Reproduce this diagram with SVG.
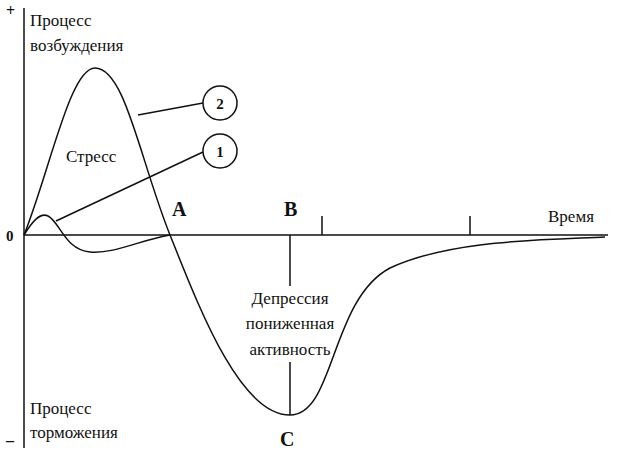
<svg xmlns="http://www.w3.org/2000/svg" width="620" height="456" viewBox="0 0 620 456">
<style>
.t{font-family:"Liberation Serif","Times New Roman",serif;font-size:17px;fill:#111}
.b{font-family:"Liberation Serif",serif;font-size:20px;font-weight:bold;fill:#111}
.l{stroke:#111;fill:none;stroke-width:1.5}
</style>
<rect width="620" height="456" fill="#fff"/>
<g id="axes">
<line class="l" x1="24" y1="8" x2="24" y2="448"/>
<line class="l" x1="24" y1="235" x2="608" y2="235"/>
<line class="l" x1="322" y1="216" x2="322" y2="235"/>
<line class="l" x1="470" y1="216" x2="470" y2="235"/>
<text class="b" x="6" y="16" style="font-size:16px">+</text>
<text class="b" x="6" y="446" style="font-size:16px">–</text>
<text class="b" x="6" y="241" style="font-size:15px">0</text>
<text class="t" x="548" y="222">Время</text>
<text class="b" x="172" y="216">A</text>
<text class="b" x="284" y="216">B</text>
<text class="b" x="280" y="446">C</text>
</g>
<g id="labels">
<text class="t" x="30" y="26">Процесс</text>
<text class="t" x="30" y="51">возбуждения</text>
<text class="t" x="30" y="414">Процесс</text>
<text class="t" x="30" y="438">торможения</text>
<text class="t" x="66" y="162">Стресс</text>
<text class="t" x="290" y="304" text-anchor="middle">Депрессия</text>
<text class="t" x="290" y="329" text-anchor="middle">пониженная</text>
<text class="t" x="290" y="355" text-anchor="middle">активность</text>
</g>
<g id="curves">
<path class="l" d="M24,235 C50,170 70,68 95,68 C125,68 140,160 170,235 C200,310 240,415 290,415 C335,415 330,300 390,268 C450,240 540,240 605,237"/>
<path class="l" stroke-width="2.2" d="M24,235 C32,222 40,212 48,216 C60,222 65,250 90,252 C115,254 140,240 170,235"/>
</g>
<g id="connectors">
<line class="l" x1="290" y1="235" x2="290" y2="286"/>
<line class="l" x1="290" y1="362" x2="290" y2="415"/>
<line class="l" x1="138" y1="115" x2="203" y2="103"/>
<line class="l" x1="56" y1="221" x2="203" y2="152"/>
</g>
<g id="c2"><circle class="l" cx="220" cy="103" r="17"/><text class="b" x="220" y="109" text-anchor="middle" style="font-size:15px">2</text></g>
<g id="c1"><circle class="l" cx="220" cy="151" r="17"/><text class="b" x="220" y="157" text-anchor="middle" style="font-size:15px">1</text></g>
</svg>
